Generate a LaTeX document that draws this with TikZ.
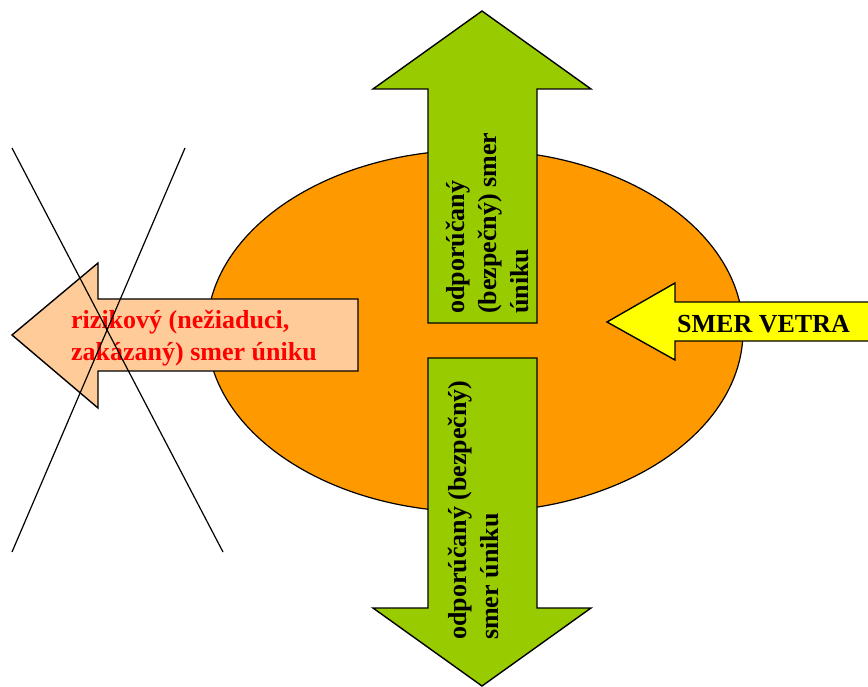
\documentclass[tikz,border=0pt]{standalone}
\usepackage{fontspec}
\setmainfont{Liberation Serif}
\definecolor{ovalc}{HTML}{FF9900}
\definecolor{greenc}{HTML}{99CC00}
\definecolor{peachc}{HTML}{FFCC99}
\definecolor{yellowc}{HTML}{FFFF00}
\definecolor{redc}{HTML}{FF0000}
\tikzset{
  arrowshape/.style={draw=black, line width=1.4pt, line join=miter},
  lbl/.style={font=\fontsize{26}{32}\selectfont\bfseries, inner sep=0pt, align=left},
  crossline/.style={draw=black, line width=1.2pt}
}
\begin{document}
\begin{tikzpicture}[x=1pt,y=-1pt]
\useasboundingbox (0,0) rectangle (868,687);
% oval
\draw[fill=ovalc, line width=1.2pt] (475,331) ellipse [x radius=268, y radius=181];
% up arrow
\filldraw[arrowshape, fill=greenc] (482,11) -- (591,89) -- (537,89) -- (537,323) -- (428,323) -- (428,89) -- (373,89) -- cycle;
% down arrow
\filldraw[arrowshape, fill=greenc] (428,358) -- (537,358) -- (537,608) -- (591,608) -- (482,686) -- (373,608) -- (428,608) -- cycle;
% left arrow
\filldraw[arrowshape, fill=peachc] (12,335) -- (98,263) -- (98,299) -- (358,299) -- (358,371) -- (98,371) -- (98,408) -- cycle;
% right arrow
\filldraw[arrowshape, fill=yellowc] (607,322) -- (675,283) -- (675,302) -- (880,302) -- (880,341) -- (675,341) -- (675,360) -- cycle;
% texts
\node[lbl, text=redc, anchor=west] (risk) at (71,338) {rizikový (nežiaduci,\\zakázaný) smer úniku};
\node[lbl, anchor=base west] (wind) at (677,333) {SMER VETRA};
\node[lbl, rotate=90, anchor=west] (up) at (487,314) {odporúčaný\\(bezpečný) smer\\úniku};
\node[lbl, rotate=90, anchor=west] (down) at (473,640) {odporúčaný (bezpečný)\\smer úniku};
% cross
\draw[crossline] (12,148) -- (223,552);
\draw[crossline] (185,148) -- (12,552);
\end{tikzpicture}
\end{document}
